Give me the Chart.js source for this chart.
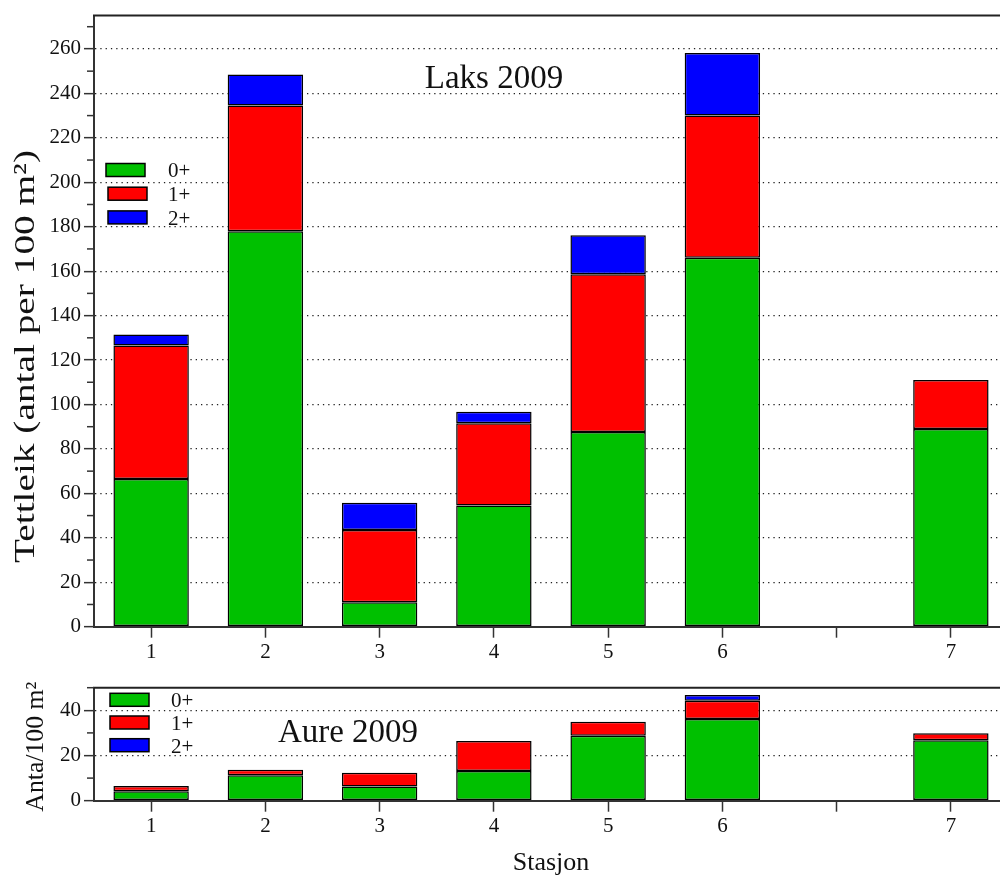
<!DOCTYPE html>
<html><head><meta charset="utf-8">
<script src="https://cdn.jsdelivr.net/npm/chart.js@4.4.1/dist/chart.umd.min.js"></script>
<style>
html,body{margin:0;padding:0;background:#fff;overflow:hidden;width:1000px;height:876px;}
#wrap{position:relative;width:1000px;height:876px;overflow:hidden;}
canvas{position:absolute;left:0;}
#c1{top:0}
#c2{top:660px}
</style></head><body>
<div id="wrap"><canvas id="c1" width="1010" height="660"></canvas><canvas id="c2" width="1010" height="216"></canvas></div>
<script>
// ---- data ----
const stations = ['1','2','3','4','5','6','','7'];
const ageClasses = ['0+','1+','2+'];
const laks0 = [66.5, 178, 11, 54.5, 87.6, 166, null, 89];
const laks1 = [60, 56.5, 32.5, 37, 71, 64, null, 22];
const laks2 = [5, 14, 12.3, 5.2, 17.6, 28.2, null, 0];
const aure0 = [4.2, 11.3, 6.3, 13.1, 28.7, 36.1, null, 26.7];
const aure1 = [2.3, 2.4, 6.1, 13.3, 6.2, 8.1, null, 3.2];
const aure2 = [0, 0, 0, 0, 0, 2.6, null, 0];
const laksTitle = 'Laks 2009';
const aureTitle = 'Aure 2009';
const laksYTitle = 'Tettleik (antal per 100 m²)';
const aureYTitle = 'Anta/100 m²';
const xTitle = 'Stasjon';
const colors = ['#00c000', '#ff0000', '#0000ff'];
const FONT = "'Liberation Serif', 'Times New Roman', serif";
const TXT = '#111';
const AX = '#333';

function datasets(series) {
  return series.map((d, i) => ({
    label: ageClasses[i], data: d, backgroundColor: colors[i],
    borderColor: '#000', borderWidth: 1.5, borderSkipped: false,
    barPercentage: 0.66, categoryPercentage: 1.0
  }));
}

const decor = {
  id: 'decor',
  afterDraw(chart, args, o) {
    const ctx = chart.ctx, ca = chart.chartArea, y = chart.scales.y;
    ctx.save();
    // top frame
    ctx.strokeStyle = '#222'; ctx.lineWidth = 2;
    ctx.beginPath(); ctx.moveTo(ca.left - 1, ca.top); ctx.lineTo(ca.right + 2, ca.top); ctx.stroke();
    // minor ticks
    ctx.strokeStyle = AX; ctx.lineWidth = 1.5;
    for (let v = o.minorStep; v <= y.max + 1e-9; v += o.minorStep * 2) {
      const p = y.getPixelForValue(v);
      ctx.beginPath(); ctx.moveTo(ca.left - 7, p); ctx.lineTo(ca.left, p); ctx.stroke();
    }
    // panel title
    ctx.fillStyle = TXT;
    ctx.font = o.title.size + 'px ' + FONT;
    ctx.textAlign = 'center'; ctx.textBaseline = 'alphabetic';
    ctx.fillText(o.title.text, o.title.x, o.title.y);
    // legend
    ctx.font = o.legend.size + 'px ' + FONT;
    ctx.textAlign = 'left';
    chart.data.datasets.forEach((ds, i) => {
      const bx = o.legend.x + (o.legend.dx ? o.legend.dx[i] : 0);
      const by = o.legend.y + i * o.legend.gap;
      ctx.fillStyle = ds.backgroundColor;
      ctx.fillRect(bx, by, 39, 13);
      ctx.strokeStyle = '#000'; ctx.lineWidth = 1.5;
      ctx.strokeRect(bx, by, 39, 13);
      ctx.fillStyle = TXT;
      ctx.fillText(ds.label, o.legend.tx, by + 13.8);
    });
    // rotated y title
    ctx.font = o.ytitle.size + 'px ' + FONT;
    ctx.textAlign = 'center';
    const w = ctx.measureText(o.ytitle.text).width;
    ctx.translate(o.ytitle.x, o.ytitle.y);
    ctx.rotate(-Math.PI / 2);
    ctx.scale(o.ytitle.len / w, 1);
    ctx.fillText(o.ytitle.text, 0, 0);
    ctx.restore();
  }
};

function makeOptions(cfg) {
  return {
    responsive: false, animation: false, devicePixelRatio: 1,
    layout: { padding: { top: cfg.padTop, right: 2, left: 0, bottom: 0 } },
    plugins: { legend: { display: false }, tooltip: { enabled: false }, decor: cfg.decor },
    scales: {
      x: {
        stacked: true,
        afterFit: s => { s.height = cfg.xHeight; },
        grid: { offset: false, drawOnChartArea: false, drawTicks: true, tickLength: 11, tickColor: AX, tickWidth: 1.5, tickBorderDash: [] },
        border: { display: true, color: AX, width: 2 },
        ticks: { color: TXT, font: { family: FONT, size: 21 }, padding: 2.5, maxRotation: 0, autoSkip: false },
        title: cfg.xTitle ? { display: true, text: cfg.xTitle, color: TXT, font: { family: FONT, size: 26, lineHeight: 1 }, padding: { top: 0, bottom: 0 } } : { display: false }
      },
      y: {
        stacked: true, min: 0, max: cfg.max,
        afterFit: s => { s.width = 94; },
        grid: {
          drawTicks: true, tickLength: 10, tickWidth: 1.5, tickBorderDash: [],
          lineWidth: 1.3,
          color: c => (c.tick && c.tick.value % 20 === 0 && c.tick.value > 0 && c.tick.value < cfg.max) ? '#222' : 'rgba(0,0,0,0)',
          tickColor: c => (c.tick && c.tick.value % 20 === 0) ? AX : 'rgba(0,0,0,0)'
        },
        border: { display: true, color: AX, width: 2, dash: [1.3, 4] },
        ticks: {
          stepSize: 10, autoSkip: false, color: TXT, padding: 3,
          font: { family: FONT, size: 21 },
          callback: v => (v % 20 === 0 ? String(v) : '')
        }
      }
    }
  };
}

new Chart(document.getElementById('c1'), {
  type: 'bar',
  data: { labels: stations, datasets: datasets([laks0, laks1, laks2]) },
  options: makeOptions({
    padTop: 15, xHeight: 33.3, max: 275,
    decor: {
      minorStep: 10,
      title: { text: laksTitle, size: 33, x: 494, y: 87.5 },
      legend: { x: 106, dx: [0, 2, 2], y: 163.5, gap: 23.7, tx: 168, size: 21 },
      ytitle: { text: laksYTitle, size: 30, x: 33.5, y: 356.5, len: 413 }
    }
  }),
  plugins: [decor]
});

new Chart(document.getElementById('c2'), {
  type: 'bar',
  data: { labels: stations, datasets: datasets([aure0, aure1, aure2]) },
  options: makeOptions({
    padTop: 27.7, xHeight: 75.3, max: 50, xTitle: xTitle,
    decor: {
      minorStep: 10,
      title: { text: aureTitle, size: 33, x: 348, y: 81.7 },
      legend: { x: 110, dx: [0, 0, 0], y: 33.3, gap: 22.7, tx: 171, size: 21 },
      ytitle: { text: aureYTitle, size: 25, x: 43.3, y: 86.7, len: 130 }
    }
  }),
  plugins: [decor]
});
</script>
</body></html>
